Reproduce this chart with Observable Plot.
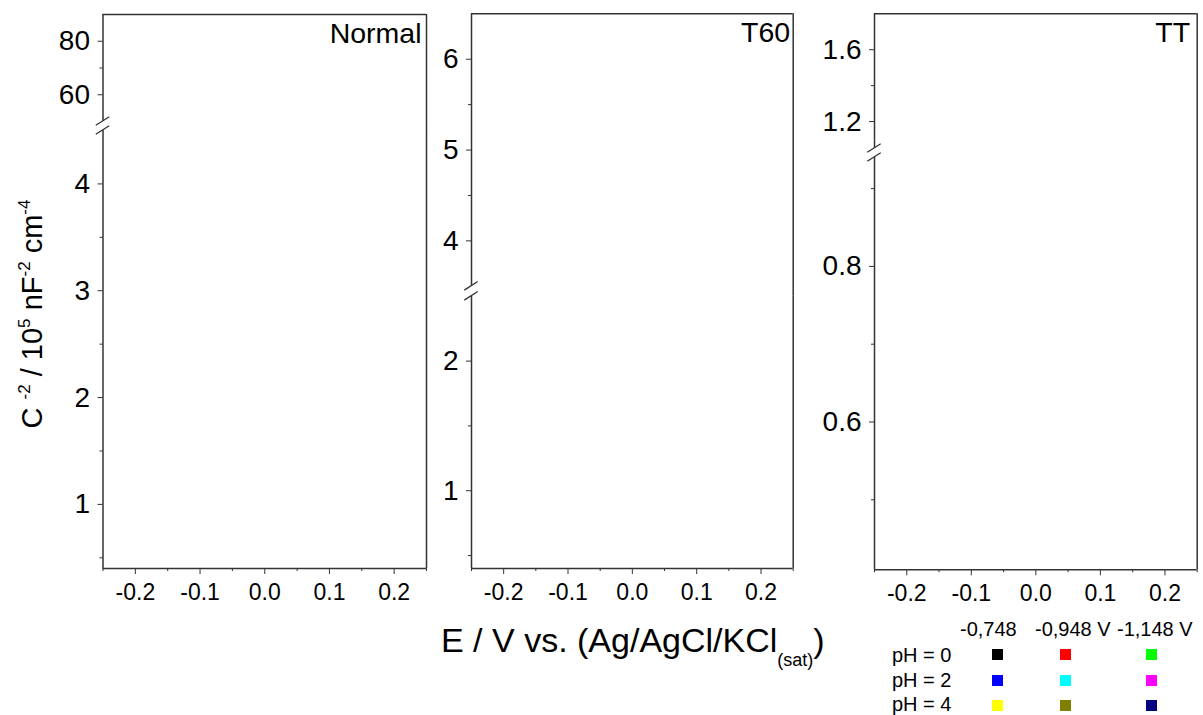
<!DOCTYPE html>
<html>
<head>
<meta charset="utf-8">
<script src="https://cdn.jsdelivr.net/npm/d3@7"></script>
<script src="https://cdn.jsdelivr.net/npm/@observablehq/plot@0.6"></script>
<style>
  html, body { margin: 0; padding: 0; background: #fff; }
  #chart { position: relative; width: 1203px; height: 715px; overflow: hidden; background: #fff;
           font-family: "Liberation Sans", Arial, sans-serif; color: #000; }
  #chart svg { position: absolute; left: 0; top: 0; }
  .abs { position: absolute; white-space: nowrap; line-height: 1; }
  .sup { position: relative; font-size: 17px; top: -12px; }
  .sub { position: relative; font-size: 18px; top: 14px; }
  .swatch { position: absolute; width: 11px; height: 11px; }
</style>
</head>
<body>
<div id="chart"></div>
<script>
// ---------------- data ----------------
const xDomain = [-0.25, 0.25];
const xMajor = [-0.2, -0.1, 0.0, 0.1, 0.2];
const xMinor = [-0.25, -0.15, -0.05, 0.05, 0.15, 0.25];

const panelNames = ["Normal", "T60", "TT"];

// broken y axes: lower segment [min, break start], upper segment [break end, max]
const normalLower = [0.4, 4.5];
const normalUpper = [50, 90];
const normalMajor = [1, 2, 3, 4, 60, 80];
const normalMinor = [0.5, 1.5, 2.5, 3.5, 70];

const t60Lower = [0.4, 2.5];
const t60Upper = [3.5, 6.5];
const t60Major = [1, 2, 4, 5, 6];
const t60Minor = [0.5, 1.5, 4.5, 5.5];

const ttLower = [0.41, 0.94];
const ttUpper = [1.05, 1.8];
const ttMajor = [0.6, 0.8, 1.2, 1.6];
const ttMinor = [0.5, 0.7, 0.9, 1.4];

const potentials = ["-0,748", "-0,948 V", "-1,148 V"];
const phLabels = ["pH = 0", "pH = 2", "pH = 4"];
const seriesColors = [
  ["#000000", "#ff0000", "#00ff00"],
  ["#0000ff", "#00ffff", "#ff00ff"],
  ["#ffff00", "#808000", "#000080"]
];

// ---------------- layout ----------------
const W = 1203, H = 715;
const FRAME = "#333333";
const FONT = "'Liberation Sans', Arial, sans-serif";
const boxes = [
  {left: 102.5, right: 426, top: 14, bottom: 568, breakUpper: 121, breakLower: 130, titleDx: -5, digits: 0},
  {left: 471, right: 792.7, top: 13.3, bottom: 568, breakUpper: 285.8, breakLower: 295.8, titleDx: -3, digits: 0},
  {left: 874, right: 1196.7, top: 13.3, bottom: 569.3, breakUpper: 148, breakLower: 157, titleDx: -7, digits: 1}
];
const panels = [
  [normalLower, normalUpper, normalMajor, normalMinor],
  [t60Lower, t60Upper, t60Major, t60Minor],
  [ttLower, ttUpper, ttMajor, ttMinor]
];

const chart = document.getElementById("chart");

function slashMark(value) {
  return (index, scales) => {
    const g = d3.create("svg:g").attr("stroke", FRAME).attr("stroke-width", 1.3).attr("fill", "none");
    const x = scales.x(xDomain[0]);
    const y = scales.y(value);
    g.append("line").attr("x1", x - 6.7).attr("y1", y + 4.3).attr("x2", x + 6.7).attr("y2", y - 4.3);
    return g.node();
  };
}

function segment(domain, major, minor, box, isUpper, name) {
  const [lo, hi] = domain;
  const inRange = v => v >= lo && v <= hi;
  const top = isUpper ? box.top : box.breakLower;
  const bottom = isUpper ? box.breakUpper : box.bottom;
  const gap = box.breakLower - box.breakUpper;
  const marks = [
    Plot.ruleX([xDomain[0]], {stroke: FRAME, strokeWidth: 1.5}),
    Plot.ruleX([xDomain[1]], {stroke: FRAME, strokeWidth: 1.5, insetBottom: isUpper ? -gap : 0}),
    Plot.ruleY([isUpper ? hi : lo], {stroke: FRAME, strokeWidth: 1.5}),
    slashMark(isUpper ? lo : hi),
    Plot.axisY({ticks: major.filter(inRange), tickSize: 5, tickPadding: 8,
                tickFormat: d => d.toFixed(box.digits),
                fontSize: 28, color: "black", stroke: FRAME, label: null}),
    Plot.axisY({ticks: minor.filter(inRange), tickSize: 3, tickFormat: () => "",
                color: "black", stroke: FRAME, label: null})
  ];
  if (isUpper) {
    marks.push(Plot.text([name], {frameAnchor: "top-right", textAnchor: "end", lineAnchor: "top",
                                  dx: box.titleDx, dy: 8, fontSize: 28.5, fill: "black"}));
  } else {
    marks.push(
      Plot.axisX({ticks: xMajor, tickSize: 6, tickPadding: 9, tickFormat: d => d.toFixed(1),
                  fontSize: 23, color: "black", stroke: FRAME, label: null}),
      Plot.axisX({ticks: xMinor, tickSize: 3, tickFormat: () => "", color: "black", stroke: FRAME, label: null})
    );
  }
  return Plot.plot({
    width: W, height: H,
    marginLeft: box.left, marginRight: W - box.right,
    marginTop: top, marginBottom: H - bottom,
    style: {background: "transparent", fontFamily: FONT, color: "black", overflow: "visible"},
    x: {domain: xDomain, label: null, axis: null},
    y: {domain: [lo, hi], label: null, axis: null},
    marks
  });
}

panelNames.forEach((name, i) => {
  const [lower, upper, maj, min] = panels[i];
  chart.appendChild(segment(lower, maj, min, boxes[i], false, name));
  chart.appendChild(segment(upper, maj, min, boxes[i], true, name));
});

// y axis title
const yTitle = document.createElement("div");
yTitle.className = "abs";
yTitle.style.cssText = "left:32px;top:314px;font-size:29px;transform:translate(-50%,-50%) rotate(-90deg);";
yTitle.innerHTML = 'C <span class="sup">-2</span> / 10<span class="sup">5</span> nF<span class="sup">-2</span> cm<span class="sup">-4</span>';
chart.appendChild(yTitle);

// x axis title
const xTitle = document.createElement("div");
xTitle.className = "abs";
xTitle.style.cssText = "left:441px;top:623px;font-size:34px;";
xTitle.innerHTML = 'E / V vs. (Ag/AgCl/KCl<span class="sub">(sat)</span>)';
chart.appendChild(xTitle);

// legend
const headerLefts = [960, 1035, 1117];
const swatchCenters = [997.7, 1065.3, 1151.3];
const rowTops = [644.5, 669.5, 694];
const rowCenters = [654.7, 680, 705];
potentials.forEach((p, j) => {
  const d = document.createElement("div");
  d.className = "abs";
  d.style.cssText = `left:${headerLefts[j]}px;top:619px;font-size:20px;`;
  d.textContent = p;
  chart.appendChild(d);
});
phLabels.forEach((lab, i) => {
  const d = document.createElement("div");
  d.className = "abs";
  d.style.cssText = `left:892px;top:${rowTops[i]}px;font-size:20px;`;
  d.textContent = lab;
  chart.appendChild(d);
  seriesColors[i].forEach((c, j) => {
    const s = document.createElement("div");
    s.className = "swatch";
    s.style.left = (swatchCenters[j] - 5.5) + "px";
    s.style.top = (rowCenters[i] - 5.5) + "px";
    s.style.background = c;
    chart.appendChild(s);
  });
});
</script>
</body>
</html>
